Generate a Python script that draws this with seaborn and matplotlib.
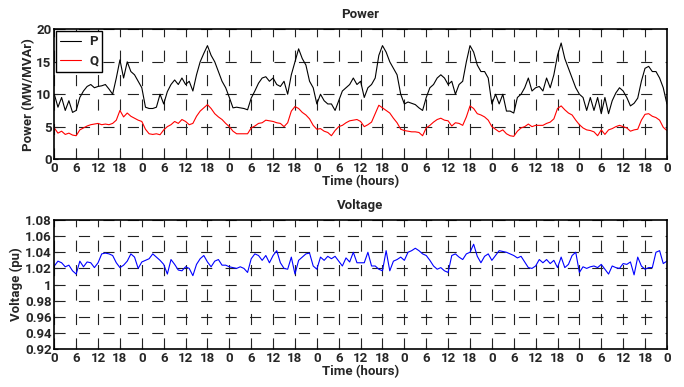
import numpy as np
import pandas as pd
import matplotlib
matplotlib.use("Agg")
import matplotlib.pyplot as plt
import seaborn as sns

# Hourly readings over 7 days (hour 0 .. 168)
P = [10, 8, 9.5, 7.5, 9, 7.2, 7.5, 9.5, 10.5, 11.2, 11.5, 11, 11.2, 11.3, 11.5, 10.8, 10, 12.5,
     15.3, 12.5, 15, 13.5, 13, 12, 11, 8, 7.8, 7.8, 8, 10, 8.5, 10.4, 11.5, 12.2, 11.5, 12.5,
     11.5, 12, 10.5, 13, 15, 16.3, 17.5, 16, 15, 13.5, 12, 11, 9.5, 7.9, 8, 7.9, 7.8, 7.6,
     9.4, 10.5, 11.7,
     12.5, 12.7, 12, 12.5, 11.5, 11.2, 12, 10, 13, 15, 17, 15.5, 14.5, 12, 11, 8.5, 10, 9,
     8.5, 8.5, 7.5, 9, 10.5, 11, 11.5, 12.5, 11.5, 12, 9.5, 11, 11.5, 12.5, 16, 17.5, 16.5,
     15, 14, 13, 10, 8.5, 8.8, 8.6, 8.4, 7.9, 7.5, 9.5, 11, 11.5, 12.5, 13, 12.5, 11.5, 12,
     10, 11.5, 12,
     15, 17.5, 16.5, 14.5, 13.5, 13.5, 12.5, 8.5, 10, 8.5, 10, 7.4, 7.4, 7.1, 9.5, 10, 11,
     12.5, 10.5, 11, 11.2, 10.5, 12.5, 11, 13, 16, 17.9, 15.5, 14, 12.5, 11, 10, 9.5, 7.5,
     9.5, 7.5, 9.5, 7, 9.5, 7, 9, 10.2, 11, 10.5, 9.5, 8.2, 8.6, 9.4, 12, 14, 14.3, 13.5,
     13.5, 12.5, 11, 8.5]

Q = [4.8, 4, 4.3, 3.8, 4, 3.7, 3.6, 4.5, 4.8, 5.1, 5.3, 5.4, 5.5, 5.3, 5.4, 5.3, 5.5, 6,
     7.5, 6.5, 7.1, 6.6, 6.3, 6, 5.8, 4.6, 3.9, 3.8, 3.9, 3.75, 4.5, 5, 5.3, 5.8, 5.5, 6.1,
     5.8, 5.3, 5.5, 6.6, 7.4, 7.9, 8.4, 7.8, 7, 6.5, 6.1, 5.5, 5, 4.3, 3.9, 3.9, 3.9, 3.9,
     4.8, 5.1, 5.5,
     5.6, 6, 5.9, 5.8, 5.6, 5.5, 5, 5.6, 7.4, 8.1, 7.8, 7.2, 6.8, 6.2, 5.2, 4.6, 4.7, 4.3,
     4.1, 3.6, 4.4, 5, 5.2, 5.6, 5.9, 6, 6.1, 5.8, 5, 5.3, 5.7, 7, 8.3, 7.9, 7.5, 7.1, 6.3,
     5.6, 4.6, 4.4, 4.3, 4.2, 4.2, 4.1, 3.6, 4.8, 5.2, 5.7, 6.1, 6.3, 6, 5.9, 5.1, 5.6, 5.5,
     5.2,
     6.5, 8.2, 7.8, 7, 6.8, 6.5, 6, 5, 4.6, 4.2, 4.5, 3.9, 3.6, 3.5, 4.3, 4.8, 5, 5.4, 5,
     5.2, 5.2, 5.2, 5.5, 5.7, 6.2, 7.8, 8.2, 7.6, 7.1, 6.8, 6, 5.3, 4.8, 4.5, 4.4, 4.2, 3.6,
     4.5, 3.8, 4.5, 4.7, 5, 5.2, 5, 4.8, 4.3, 4.5, 4.6, 6, 6.9, 7, 6.6, 6.4, 6, 4.9, 4.4]

V = [1.023, 1.029, 1.027, 1.022, 1.024, 1.017, 1.013, 1.029, 1.022, 1.028, 1.027, 1.021,
     1.027, 1.038, 1.039, 1.038, 1.036, 1.027, 1.021, 1.024, 1.029, 1.038, 1.034, 1.020,
     1.028, 1.030, 1.032, 1.038, 1.034, 1.030, 1.025, 1.013, 1.031, 1.025, 1.018, 1.017,
     1.022, 1.020, 1.011, 1.025, 1.032, 1.036, 1.028, 1.022, 1.029, 1.031, 1.024, 1.024,
     1.022, 1.021, 1.020, 1.022, 1.020, 1.015, 1.032, 1.038, 1.036,
     1.030, 1.036, 1.027, 1.036, 1.042, 1.027, 1.020, 1.019, 1.034, 1.013, 1.030, 1.034,
     1.038, 1.039, 1.023, 1.019, 1.034, 1.030, 1.035, 1.032, 1.035, 1.029, 1.023, 1.033,
     1.028, 1.040, 1.027, 1.027, 1.027, 1.040, 1.023, 1.023, 1.019, 1.017, 1.042, 1.017,
     1.029, 1.031, 1.034, 1.030, 1.040, 1.042, 1.045, 1.042, 1.038, 1.036, 1.030, 1.023,
     1.019, 1.021, 1.017, 1.015, 1.036, 1.038, 1.034, 1.031,
     1.038, 1.040, 1.050, 1.035, 1.027, 1.035, 1.038, 1.030, 1.036, 1.042, 1.041, 1.040,
     1.038, 1.036, 1.033, 1.035, 1.028, 1.021, 1.020, 1.023, 1.031, 1.027, 1.031, 1.026,
     1.030, 1.021, 1.034, 1.021, 1.025, 1.036, 1.040, 1.015, 1.022, 1.020, 1.022, 1.023,
     1.021, 1.025, 1.019, 1.013, 1.023, 1.021, 1.020, 1.026, 1.025, 1.028, 1.012, 1.034,
     1.023, 1.019, 1.021, 1.021, 1.040, 1.042, 1.026, 1.029]

hours = list(range(len(P)))
xtick_pos = list(range(0, 169, 6))
xtick_lab = ["0", "6", "12", "18"] * 7 + ["0"]
p_ticks = [0, 5, 10, 15, 20]
v_ticks = [0.92, 0.94, 0.96, 0.98, 1.0, 1.02, 1.04, 1.06, 1.08]
v_labels = ["0.92", "0.94", "0.96", "0.98", "1", "1.02", "1.04", "1.06", "1.08"]

sns.set_style("ticks")
plt.rcParams["font.family"] = ["Roboto", "DejaVu Sans"]
plt.rcParams["font.weight"] = "bold"
plt.rcParams["axes.labelweight"] = "bold"
plt.rcParams["axes.titleweight"] = "bold"

df_pq = pd.DataFrame({"hour": hours * 2, "value": P + Q,
                      "series": ["P"] * len(P) + ["Q"] * len(Q)})
df_v = pd.DataFrame({"hour": hours, "V": V})

fig = plt.figure(figsize=(6.84, 3.87), dpi=100)
ax1 = fig.add_axes([0.0794, 0.589, 0.8956, 0.335])
ax2 = fig.add_axes([0.0794, 0.098, 0.8956, 0.3335])

sns.lineplot(data=df_pq, x="hour", y="value", hue="series",
             palette={"P": "black", "Q": "red"}, linewidth=0.8, ax=ax1)
sns.lineplot(data=df_v, x="hour", y="V", color="blue", linewidth=0.8, ax=ax2)

fs = 9.5
for ax in (ax1, ax2):
    ax.set_xlim(0, 168)
    ax.set_xticks(xtick_pos)
    ax.set_xticklabels(xtick_lab, fontsize=fs, fontweight="bold")
    ax.grid(True, color="#222222", linestyle=(0, (10, 12)), linewidth=0.8)
    ax.tick_params(direction="in", length=3, width=0.8, pad=2)
    for s in ax.spines.values():
        s.set_linewidth(1.2)
        s.set_color("black")
    ax.set_xlabel("Time (hours)", fontsize=fs, fontweight="bold", labelpad=0)

ax1.set_ylim(0, 20)
ax1.set_yticks(p_ticks)
ax1.set_yticklabels([str(t) for t in p_ticks], fontsize=fs, fontweight="bold")
ax1.set_ylabel("Power (MW/MVAr)", fontsize=fs, fontweight="bold", labelpad=1)
ax1.set_title("Power", fontsize=fs, fontweight="bold", pad=8)

ax2.set_ylim(0.92, 1.08)
ax2.set_yticks(v_ticks)
ax2.set_yticklabels(v_labels, fontsize=fs, fontweight="bold")
ax2.set_ylabel("Voltage (pu)", fontsize=fs, fontweight="bold", labelpad=1)
ax2.set_title("Voltage", fontsize=fs, fontweight="bold", pad=8)

leg = ax1.legend(loc="upper left", fontsize=fs, frameon=True, fancybox=False,
                 handlelength=1.6, borderpad=0.3, labelspacing=0.5,
                 handletextpad=0.6, borderaxespad=0.15, title=None)
leg.get_frame().set_edgecolor("black")
leg.get_frame().set_linewidth(1.0)
leg.get_frame().set_alpha(1)
for t in leg.get_texts():
    t.set_fontweight("bold")

fig.savefig("out.png", dpi=100)
